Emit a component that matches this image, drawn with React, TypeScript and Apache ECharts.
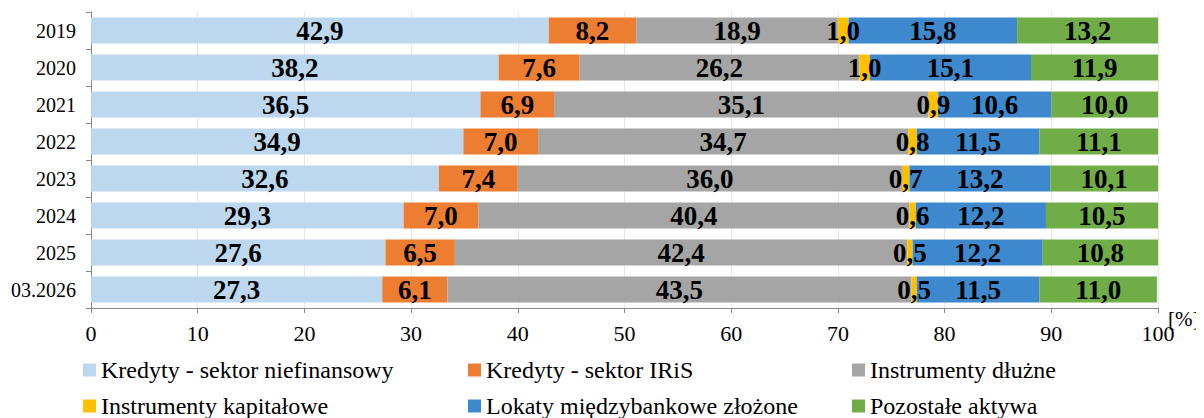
import React, { useEffect, useRef } from "react";
import * as echarts from "echarts";

const categories = ["2019", "2020", "2021", "2022", "2023", "2024", "2025", "03.2026"];
const seriesNames = [
  "Kredyty - sektor niefinansowy",
  "Kredyty - sektor IRiS",
  "Instrumenty dłużne",
  "Instrumenty kapitałowe",
  "Lokaty międzybankowe złożone",
  "Pozostałe aktywa",
];
const kredytyNief = [42.9, 38.2, 36.5, 34.9, 32.6, 29.3, 27.6, 27.3];
const kredytyIRiS = [8.2, 7.6, 6.9, 7.0, 7.4, 7.0, 6.5, 6.1];
const instrDluzne = [18.9, 26.2, 35.1, 34.7, 36.0, 40.4, 42.4, 43.5];
const instrKapital = [1.0, 1.0, 0.9, 0.8, 0.7, 0.6, 0.5, 0.5];
const lokaty = [15.8, 15.1, 10.6, 11.5, 13.2, 12.2, 12.2, 11.5];
const pozostale = [13.2, 11.9, 10.0, 11.1, 10.1, 10.5, 10.8, 11.0];
const xTicks = [0, 10, 20, 30, 40, 50, 60, 70, 80, 90, 100];

const colors = ["#BDD7EE", "#ED7D31", "#A5A5A5", "#FFC000", "#3E88CD", "#70AD47"];
const FONT = "Liberation Serif";

export default function App() {
  const ref = useRef<HTMLDivElement>(null);
  useEffect(() => {
    if (!ref.current) return;
    const chart = echarts.init(ref.current, null, { renderer: "svg" });
    const allData = [kredytyNief, kredytyIRiS, instrDluzne, instrKapital, lokaty, pozostale];
    const legendCommon = {
      orient: "vertical" as const,
      top: 350,
      padding: 0,
      itemWidth: 13,
      itemHeight: 13,
      itemGap: 12,
      icon: "rect",
      textStyle: { fontFamily: FONT, fontSize: 24, color: "#000", lineHeight: 24 },
      selectedMode: false,
    };
    chart.setOption({
      animation: false,
      grid: { left: 79, right: 46, top: 4, height: 296, containLabel: false },
      xAxis: {
        type: "value",
        min: 0,
        max: 100,
        interval: 10,
        axisLine: { show: true, lineStyle: { color: "#888" } },
        axisTick: { show: true, length: 5, lineStyle: { color: "#888" } },
        splitLine: { show: true, lineStyle: { color: "#E6E6E6" } },
        axisLabel: {
          fontFamily: FONT,
          fontSize: 22,
          color: "#000",
          margin: 14,
          formatter: (v: number) => (xTicks.includes(v) ? String(v) : ""),
        },
      },
      yAxis: {
        type: "category",
        data: categories,
        inverse: true,
        axisLine: { show: true, lineStyle: { color: "#888" } },
        axisTick: { show: true, length: 5, inside: false, lineStyle: { color: "#888" } },
        axisLabel: { fontFamily: FONT, fontSize: 20, color: "#000", margin: 15 },
        splitLine: { show: false },
      },
      legend: [
        { ...legendCommon, left: 75, data: [seriesNames[0], seriesNames[3]] },
        { ...legendCommon, left: 460, data: [seriesNames[1], seriesNames[4]] },
        { ...legendCommon, left: 844, data: [seriesNames[2], seriesNames[5]] },
      ],
      graphic: [
        {
          type: "text",
          left: 1160,
          top: 300,
          style: { text: "[%]", font: `21px ${FONT}`, fill: "#000" },
        },
      ],
      series: seriesNames.map((name, i) => ({
        name,
        type: "bar",
        stack: "total",
        barWidth: "70%",
        data: allData[i],
        itemStyle: { color: colors[i] },
        label: {
          show: true,
          position: "inside",
          fontFamily: FONT,
          fontSize: 27,
          fontWeight: "bold",
          color: "#000",
          formatter: (p: any) => Number(p.value).toFixed(1).replace(".", ","),
        },
      })),
    });
    return () => chart.dispose();
  }, []);
  return <div ref={ref} style={{ width: 1196, height: 410 }} />;
}
